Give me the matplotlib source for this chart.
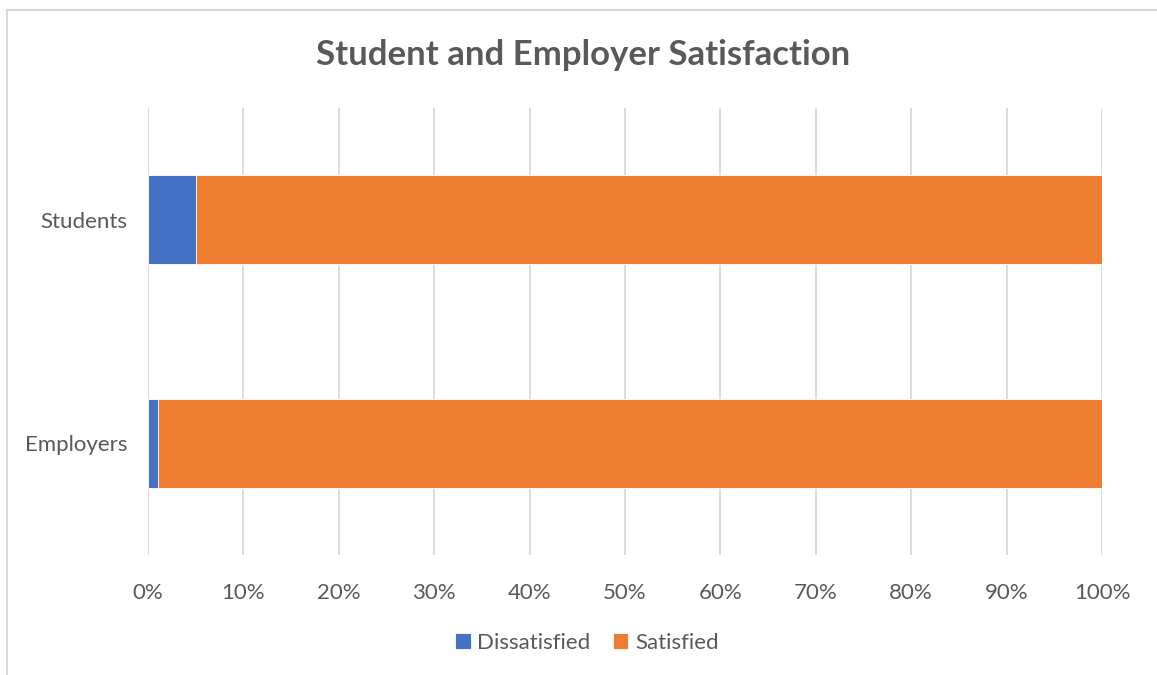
import matplotlib.pyplot as plt
from matplotlib.lines import Line2D
from matplotlib.ticker import PercentFormatter

categories = ["Employers", "Students"]
dissatisfied = [1, 5]
satisfied = [99, 95]
series_names = ["Dissatisfied", "Satisfied"]
colors = ["#4472C4", "#ED7D31"]
text_color = "#595959"

plt.rcParams["font.family"] = ["Lato", "DejaVu Sans"]

fig = plt.figure(figsize=(11.57, 6.75), dpi=100)
ax = fig.add_axes([148 / 1157, 1 - 555 / 675, 954 / 1157, 447 / 675])

# 100% stacked bars
ax.barh(categories, dissatisfied, height=0.4, color=colors[0], label=series_names[0],
        edgecolor="white", linewidth=0.6, zorder=3)
ax.barh(categories, satisfied, left=dissatisfied, height=0.4, color=colors[1],
        label=series_names[1], edgecolor="white", linewidth=0.6, zorder=3)

ax.set_xlim(0, 100)
ax.set_ylim(-0.5, 1.5)
ax.set_xticks(range(0, 101, 10))
ax.xaxis.set_major_formatter(PercentFormatter(decimals=0))
ax.grid(axis="x", color="#d9d9d9", linewidth=1.3, zorder=0)
for s in ax.spines.values():
    s.set_visible(False)
ax.tick_params(length=0, labelsize=16, colors=text_color)
ax.tick_params(axis="x", pad=20)
ax.tick_params(axis="y", pad=15)

fig.text(0.504, 1 - 55 / 675, "Student and Employer Satisfaction", ha="center", va="center",
         fontsize=25, fontweight="bold", color=text_color)

ax.legend(loc="center", bbox_to_anchor=((587 - 148) / 954, (555 - 643) / 447), ncol=2,
          frameon=False, fontsize=16, labelcolor=text_color, handlelength=0.7,
          handleheight=0.7, handletextpad=0.3, columnspacing=1.0)

# chart area border (top and left edges are visible)
fig.add_artist(Line2D([7 / 1157, 1], [1 - 10 / 675, 1 - 10 / 675], color="#d9d9d9", linewidth=1.5))
fig.add_artist(Line2D([7 / 1157, 7 / 1157], [0, 1 - 10 / 675], color="#d9d9d9", linewidth=1.5))

fig.savefig("out.png", dpi=100, facecolor="white")
